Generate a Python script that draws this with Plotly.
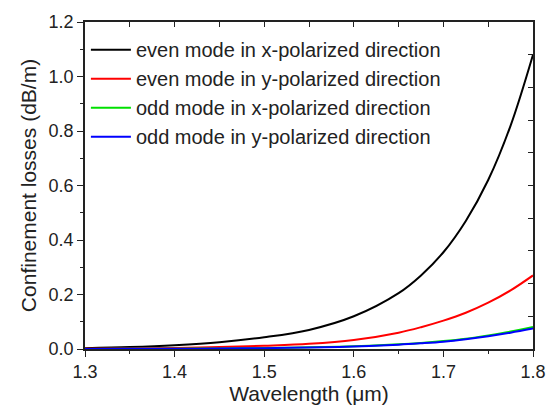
import plotly.graph_objects as go

wavelength = [1.30, 1.35, 1.40, 1.45, 1.50, 1.55, 1.60, 1.65, 1.675, 1.70, 1.725, 1.75, 1.775, 1.80]
even_x = [0.003, 0.007, 0.014, 0.025, 0.043, 0.070, 0.120, 0.205, 0.270, 0.355, 0.470, 0.620, 0.820, 1.080]
even_y = [0.001, 0.002, 0.004, 0.007, 0.012, 0.019, 0.033, 0.060, 0.080, 0.104, 0.133, 0.170, 0.215, 0.270]
odd_x = [0.0003, 0.0006, 0.001, 0.002, 0.0035, 0.006, 0.010, 0.017, 0.022, 0.029, 0.038, 0.050, 0.064, 0.081]
odd_y = [0.0003, 0.0005, 0.001, 0.0018, 0.0032, 0.0055, 0.0093, 0.016, 0.021, 0.027, 0.036, 0.047, 0.060, 0.075]

names = ["even mode in x-polarized direction", "even mode in y-polarized direction",
         "odd mode in x-polarized direction", "odd mode in y-polarized direction"]
series = [even_x, even_y, odd_x, odd_y]
colors = ["#000000", "#ff0000", "#00e000", "#0000ff"]

x_ticks = [1.3, 1.4, 1.5, 1.6, 1.7, 1.8]
y_ticks = [0.0, 0.2, 0.4, 0.6, 0.8, 1.0, 1.2]

fig = go.Figure()
for n, s, c in zip(names, series, colors):
    fig.add_trace(go.Scatter(x=wavelength, y=s, name=n, mode="lines",
                             line=dict(color=c, width=2, shape="spline", smoothing=1.0)))
# empty trace to host mirrored top/right axes
fig.add_trace(go.Scatter(x=[], y=[], xaxis="x2", yaxis="y2", showlegend=False))

font = "Liberation Sans, Arial, sans-serif"
axis_common = dict(showline=True, linecolor="#222222", linewidth=1.5, showgrid=False,
                   zeroline=False, tickcolor="#222222", tickwidth=1.3,
                   tickfont=dict(family=font, size=18, color="#222222"))

fig.update_layout(
    width=558, height=413,
    margin=dict(l=85, r=14, t=15, b=60),
    paper_bgcolor="white", plot_bgcolor="white",
    showlegend=True,
    legend=dict(x=0.002, y=0.975, xanchor="left", yanchor="top",
                bgcolor="rgba(0,0,0,0)", font=dict(family=font, size=20, color="#222222"),
                tracegroupgap=0, itemwidth=40),
    xaxis=dict(range=[1.3, 1.8], tickvals=x_ticks, ticktext=[f"{v:.1f}" for v in x_ticks],
               ticks="outside", ticklen=6,
               minor=dict(dtick=0.05, ticks="outside", ticklen=3, tickcolor="#222222", tickwidth=1.3),
               title=dict(text="Wavelength (μm)", font=dict(family=font, size=21, color="#222222"),
                          standoff=4),
               **axis_common),
    yaxis=dict(range=[0, 1.2], tickvals=y_ticks, ticktext=[f"{v:.1f}" for v in y_ticks],
               ticks="outside", ticklen=6,
               minor=dict(dtick=0.1, ticks="outside", ticklen=3, tickcolor="#222222", tickwidth=1.3),
               title=dict(text="Confinement losses (dB/m)", font=dict(family=font, size=21, color="#222222"),
                          standoff=6),
               **axis_common),
    xaxis2=dict(range=[1.3, 1.8], overlaying="x", side="top", anchor="y2",
                tick0=1.3, dtick=0.05, showticklabels=False, ticks="inside", ticklen=5,
                **axis_common),
    yaxis2=dict(range=[0, 1.2], overlaying="y", side="right", anchor="x2",
                tick0=0, dtick=0.12, showticklabels=False, ticks="inside", ticklen=5,
                **axis_common),
)

fig.write_html("out.html")
